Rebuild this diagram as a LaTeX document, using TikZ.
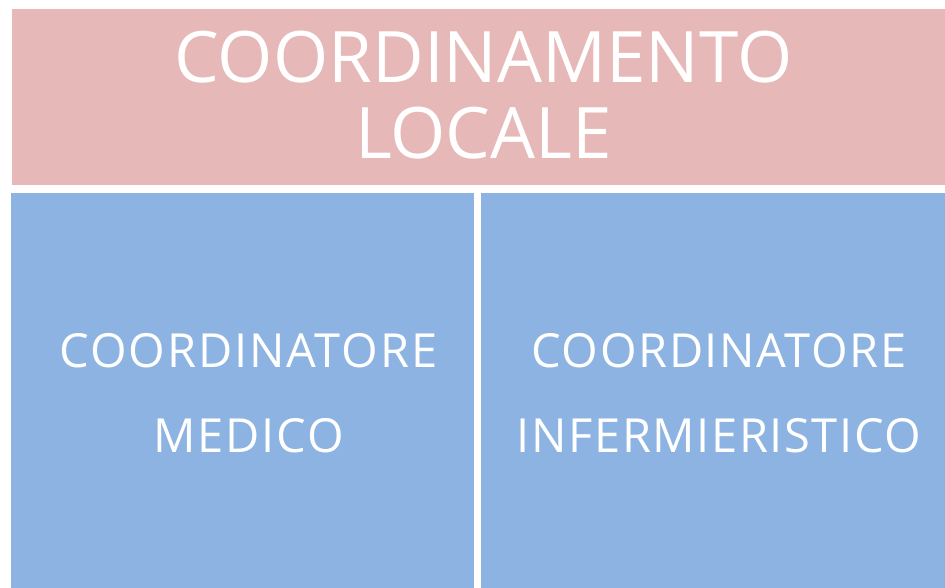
\documentclass[tikz,border=0pt]{standalone}
\usepackage{fontspec}
\setmainfont{Open Sans}
\definecolor{pinkbox}{HTML}{E6B8B7}
\definecolor{bluebox}{HTML}{8DB3E2}
\begin{document}
\begin{tikzpicture}[x=1pt,y=-1pt,
  box/.style={inner sep=0pt, outer sep=0pt},
  lbl/.style={text=white, align=center}]
\useasboundingbox[fill=white] (0,0) rectangle (945,588);
\fill[pinkbox] (12,9) rectangle (945,185);
\fill[bluebox] (11,193) rectangle (474,588);
\fill[bluebox] (481,193) rectangle (945,588);
\node[box] (top) at (478.5,97) {};
\node[box] (left) at (242.5,390) {};
\node[box] (right) at (713,390) {};
\node[lbl, font=\fontsize{71}{76}\selectfont] at ([xshift=5pt,yshift=2pt]top) {COORDINAMENTO\\LOCALE};
\node[lbl, font=\fontsize{47}{85}\selectfont\addfontfeature{LetterSpace=4.0}] at ([xshift=6pt,yshift=-3pt]left) {COORDINATORE\\MEDICO};
\node[lbl, font=\fontsize{47}{85}\selectfont\addfontfeature{LetterSpace=3.4}] at ([xshift=6pt,yshift=-3pt]right) {COORDINATORE\\INFERMIERISTICO};
\end{tikzpicture}
\end{document}
